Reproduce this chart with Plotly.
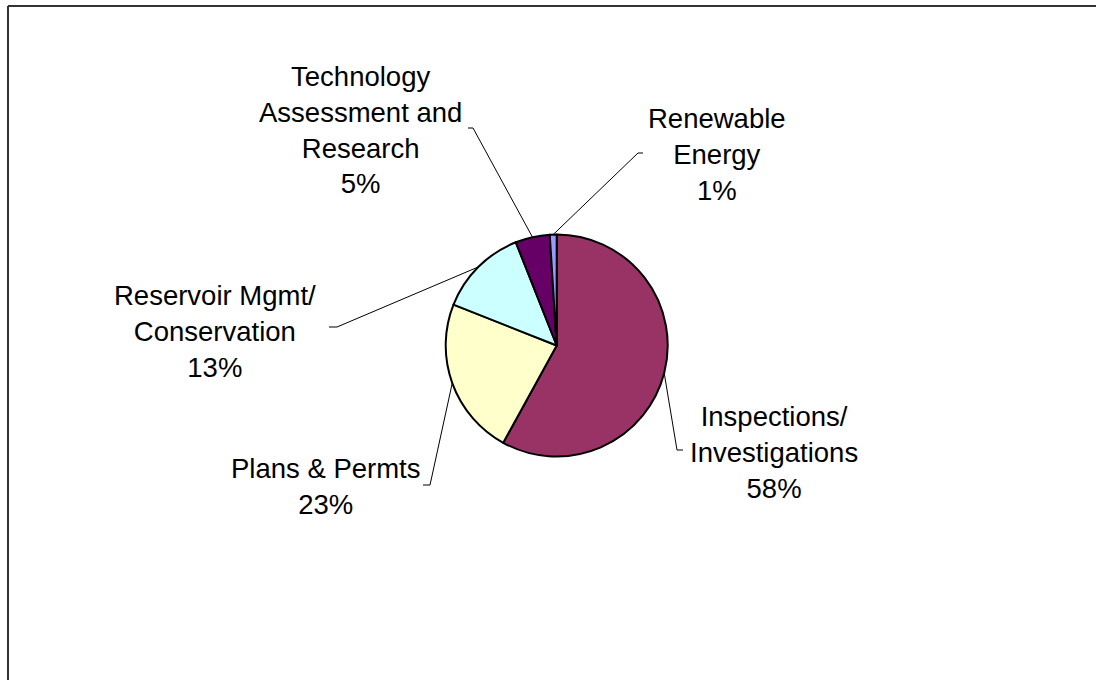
import math
import plotly.graph_objects as go

# Program share by category
categories = [
    "Inspections/<br>Investigations",
    "Plans & Permts",
    "Reservoir Mgmt/<br>Conservation",
    "Technology<br>Assessment and<br>Research",
    "Renewable<br>Energy",
]
shares = [58, 23, 13, 5, 1]
colors = ["#993366", "#FFFFCC", "#CCFFFF", "#660066", "#9999FF"]

W, H = 1096, 680
CX, CY, R = 556.7, 345.5, 111.0          # pie centre / radius in pixels

# label block centres (pixels) and leader elbows: (tick end x, corner x, y)
label_pos = [(774, 452), (326, 486), (215, 331), (361, 130), (717, 155)]
elbows = [(683, 677, 450), (423, 430, 485), (329, 337, 327),
          (468, 473, 128), (643, 638, 153)]


def px(x):
    return x / W


def py(y):
    return 1 - y / H


fig = go.Figure(go.Pie(
    labels=categories,
    values=shares,
    sort=False,
    direction="clockwise",
    rotation=0,
    marker=dict(colors=colors, line=dict(color="black", width=2)),
    textinfo="none",
    hoverinfo="skip",
    showlegend=False,
    domain=dict(x=[px(CX - R), px(CX + R)], y=[py(CY + R), py(CY - R)]),
))

total = sum(shares)
cum = 0.0
annotations = []
shapes = []
for name, v, (lx, ly), (tx, kx, ey) in zip(categories, shares, label_pos, elbows):
    mid = (cum + v / 2) / total
    cum += v
    theta = 2 * math.pi * mid
    ax = CX + R * math.sin(theta)
    ay = CY - R * math.cos(theta)
    annotations.append(dict(
        x=px(lx), y=py(ly), xref="paper", yref="paper",
        text=f"{name}<br>{v}%", showarrow=False,
        xanchor="center", yanchor="middle", align="center",
        font=dict(family="Liberation Sans, Arial, sans-serif", size=27.5, color="black"),
    ))
    shapes.append(dict(
        type="path", xref="paper", yref="paper",
        path=f"M {px(tx)} {py(ey)} L {px(kx)} {py(ey)} L {px(ax)} {py(ay)}",
        line=dict(color="black", width=1),
    ))

# chart frame (left and top edges)
shapes.append(dict(type="line", xref="paper", yref="paper",
                   x0=px(8), y0=py(6), x1=px(8), y1=0,
                   line=dict(color="#333333", width=2)))
shapes.append(dict(type="line", xref="paper", yref="paper",
                   x0=px(8), y0=py(6), x1=1, y1=py(6),
                   line=dict(color="#333333", width=2)))

fig.update_layout(
    width=W, height=H,
    margin=dict(l=0, r=0, t=0, b=0),
    paper_bgcolor="white",
    plot_bgcolor="white",
    annotations=annotations,
    shapes=shapes,
)

fig.write_html("out.html", config={"displayModeBar": False})
